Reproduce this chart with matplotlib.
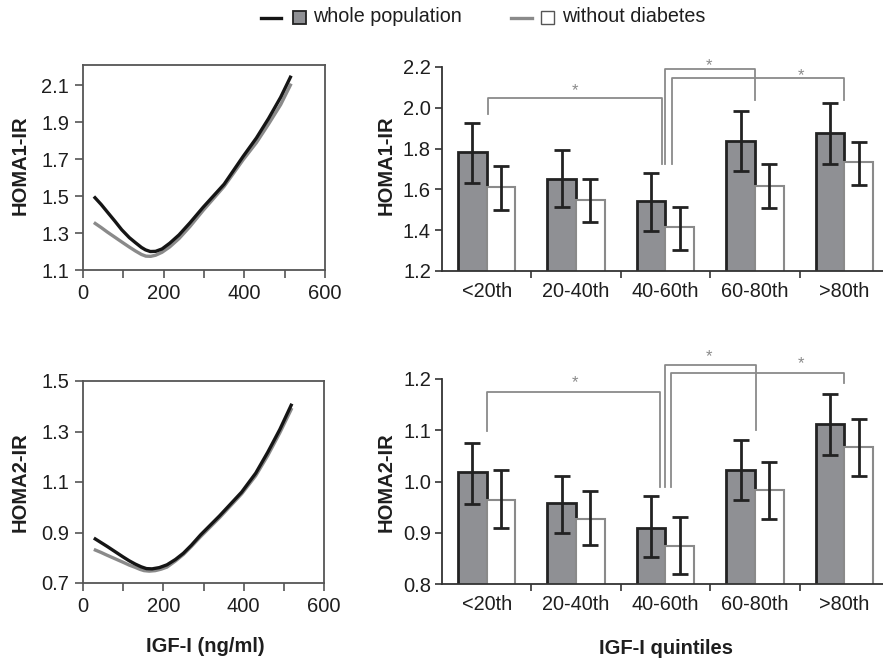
"""HOMA-IR vs IGF-I: fitted curves and quintile bar charts."""

import matplotlib

matplotlib.use("Agg")
import matplotlib.pyplot as plt
import numpy as np
from matplotlib.lines import Line2D
from matplotlib.patches import Rectangle

plt.rcParams["font.family"] = ["Liberation Sans", "DejaVu Sans"]

# fitted curves
igf_top_whole = [27, 45, 60, 80, 96, 115, 130, 145, 155, 167, 180, 196, 215, 238, 265, 298,
                 350, 397, 430, 460, 490, 516]
homa1_whole = [1.498, 1.455, 1.415, 1.362, 1.318, 1.275, 1.248, 1.222, 1.209, 1.200, 1.201,
               1.214, 1.245, 1.290, 1.355, 1.440, 1.565, 1.715, 1.815, 1.920, 2.035, 2.152]
igf_top_nodiab = [27, 45, 60, 80, 96, 115, 130, 145, 156, 168, 180, 196, 215, 238, 265, 298,
                  350, 397, 430, 460, 490, 516]
homa1_nodiab = [1.357, 1.330, 1.306, 1.276, 1.252, 1.224, 1.203, 1.184, 1.175, 1.174, 1.180,
                1.196, 1.225, 1.270, 1.335, 1.423, 1.553, 1.697, 1.790, 1.890, 1.995, 2.109]

igf_bot_whole = [27, 45, 60, 80, 100, 115, 130, 145, 158, 172, 190, 209, 230, 250, 270, 293,
                 340, 395, 430, 460, 490, 520]
homa2_whole = [0.878, 0.860, 0.845, 0.824, 0.803, 0.788, 0.775, 0.764, 0.757, 0.756, 0.761,
               0.772, 0.793, 0.818, 0.850, 0.891, 0.966, 1.060, 1.135, 1.218, 1.308, 1.410]
igf_bot_nodiab = [27, 45, 60, 80, 100, 115, 130, 142, 152, 165, 180, 195, 209, 230, 250, 270,
                  293, 340, 395, 430, 460, 490, 520]
homa2_nodiab = [0.833, 0.821, 0.810, 0.796, 0.782, 0.771, 0.762, 0.754, 0.749, 0.747, 0.749,
                0.755, 0.763, 0.787, 0.813, 0.845, 0.884, 0.959, 1.053, 1.125, 1.205, 1.295,
                1.393]

# quintile means with error bar limits
quintiles = ["<20th", "20-40th", "40-60th", "60-80th", ">80th"]
h1_whole = [1.784, 1.649, 1.541, 1.836, 1.877]
h1_whole_lo = [1.633, 1.515, 1.398, 1.690, 1.725]
h1_whole_hi = [1.926, 1.792, 1.680, 1.984, 2.025]
h1_nodiab = [1.610, 1.548, 1.415, 1.615, 1.733]
h1_nodiab_lo = [1.498, 1.441, 1.305, 1.508, 1.623]
h1_nodiab_hi = [1.715, 1.649, 1.515, 1.725, 1.834]

h2_whole = [1.018, 0.958, 0.910, 1.022, 1.112]
h2_whole_lo = [0.957, 0.900, 0.852, 0.963, 1.052]
h2_whole_hi = [1.076, 1.010, 0.971, 1.081, 1.170]
h2_nodiab = [0.963, 0.927, 0.874, 0.984, 1.068]
h2_nodiab_lo = [0.910, 0.876, 0.819, 0.927, 1.010]
h2_nodiab_hi = [1.022, 0.981, 0.930, 1.038, 1.122]

# significance brackets: (x_left, x_right, y_bar, y_left_end, y_right_end, x_star, y_star)
h1_brackets = [
    (0.01, 1.96, 2.048, 1.970, 1.725, 0.99, 2.082),
    (2.00, 3.00, 2.190, 1.725, 2.038, 2.49, 2.205),
    (2.07, 4.00, 2.146, 1.725, 2.038, 3.52, 2.160),
]
h2_brackets = [
    (0.00, 1.94, 1.175, 1.099, 0.989, 0.99, 1.193),
    (1.99, 3.01, 1.228, 0.989, 1.101, 2.49, 1.243),
    (2.06, 4.00, 1.212, 0.989, 1.193, 3.52, 1.230),
]

BLACK = "#151515"
GRAY_LINE = "#8a8a8a"
BAR_GRAY = "#8f9094"
SPINE = "#333333"
TXT = "#1e1e1e"

W, H = 883, 661
fig = plt.figure(figsize=(W / 100, H / 100), dpi=100)


def px_axes(left, top, right, bottom):
    return fig.add_axes([left / W, 1 - bottom / H, (right - left) / W, (bottom - top) / H])


def curve_panel(ax, xw, yw, xn, yn, ylim, yticks):
    ax.plot(xn, yn, color=GRAY_LINE, lw=2.4, solid_joinstyle="round", solid_capstyle="butt")
    ax.plot(xw, yw, color=BLACK, lw=2.4, solid_joinstyle="round", solid_capstyle="butt")
    ax.set_xlim(0, 600)
    ax.set_ylim(*ylim)
    ax.set_xticks([0, 100, 200, 300, 400, 500, 600])
    ax.set_xticklabels(["0", "", "200", "", "400", "", "600"])
    ax.set_yticks(yticks)
    ax.set_yticklabels([f"{t:.1f}" for t in yticks])
    for s in ax.spines.values():
        s.set_color("#555555")
        s.set_linewidth(1.3)
    ax.tick_params(direction="out", length=6, width=1.2, color="#555555",
                   labelsize=14.5, labelcolor=TXT, pad=4)


def bar_panel(ax, mw, lw_, hw, mn, ln, hn, ylim, yticks, brackets):
    x = np.arange(len(quintiles))
    bw = 0.32
    ax.bar(x - bw / 2, mw, bw, color=BAR_GRAY, edgecolor="#222222", linewidth=2.0, zorder=2)
    ax.bar(x + bw / 2, mn, bw, color="white", edgecolor="#8a8a8a", linewidth=1.5, zorder=2)
    mw_a, mn_a = np.array(mw), np.array(mn)
    ax.errorbar(x - bw / 2, mw, yerr=[mw_a - np.array(lw_), np.array(hw) - mw_a], fmt="none",
                ecolor="#222222", elinewidth=2.0, capsize=6, capthick=2.0, zorder=3)
    ax.errorbar(x + bw / 2, mn, yerr=[mn_a - np.array(ln), np.array(hn) - mn_a], fmt="none",
                ecolor="#222222", elinewidth=2.0, capsize=6, capthick=2.0, zorder=3)
    for xl, xr, yb, yle, yre, xs, ys in brackets:
        ax.plot([xl, xl, xr, xr], [yle, yb, yb, yre], color="#8a8a8a", lw=1.3,
                clip_on=False, zorder=1)
        ax.text(xs, ys, "*", color="#8a8a8a", fontsize=12, ha="center", va="center",
                clip_on=False)
    ax.set_xlim(-0.5, 4.5)
    ax.set_ylim(*ylim)
    ax.set_yticks(yticks)
    ax.set_yticklabels([f"{t:.1f}" for t in yticks])
    ax.set_xticks([0.5, 1.5, 2.5, 3.5])
    ax.set_xticklabels([])
    ax.set_xticks(x, minor=True)
    ax.set_xticklabels(quintiles, minor=True)
    ax.spines["top"].set_visible(False)
    ax.spines["right"].set_visible(False)
    for s in ("left", "bottom"):
        ax.spines[s].set_color(SPINE)
        ax.spines[s].set_linewidth(1.3)
    ax.tick_params(axis="both", which="major", direction="out", length=5, width=1.2,
                   color=SPINE, labelsize=14.5, labelcolor=TXT, pad=3)
    ax.tick_params(axis="x", which="minor", length=0, labelsize=14.3,
                   labelcolor=TXT, pad=8)


ax1 = px_axes(83, 65, 325, 270)
curve_panel(ax1, igf_top_whole, homa1_whole, igf_top_nodiab, homa1_nodiab,
            (1.1, 2.21), [1.1, 1.3, 1.5, 1.7, 1.9, 2.1])

ax3 = px_axes(83, 381, 324, 583)
curve_panel(ax3, igf_bot_whole, homa2_whole, igf_bot_nodiab, homa2_nodiab,
            (0.7, 1.5), [0.7, 0.9, 1.1, 1.3, 1.5])

ax2 = px_axes(442, 67, 889, 271)
bar_panel(ax2, h1_whole, h1_whole_lo, h1_whole_hi, h1_nodiab, h1_nodiab_lo, h1_nodiab_hi,
          (1.2, 2.2), [1.2, 1.4, 1.6, 1.8, 2.0, 2.2], h1_brackets)

ax4 = px_axes(442, 379, 889, 584)
bar_panel(ax4, h2_whole, h2_whole_lo, h2_whole_hi, h2_nodiab, h2_nodiab_lo, h2_nodiab_hi,
          (0.8, 1.2), [0.8, 0.9, 1.0, 1.1, 1.2], h2_brackets)

# axis titles
lab = dict(fontsize=14.5, fontweight="bold", color=TXT, ha="center", va="center")
fig.text(20 / W, 1 - 165 / H, "HOMA1-IR", rotation=90, **lab)
fig.text(20 / W, 1 - 482 / H, "HOMA2-IR", rotation=90, **lab)
fig.text(386 / W, 1 - 165 / H, "HOMA1-IR", rotation=90, **lab)
fig.text(386 / W, 1 - 482 / H, "HOMA2-IR", rotation=90, **lab)
fig.text(205 / W, 1 - 646 / H, "IGF-I (ng/ml)", **lab)
fig.text(666 / W, 1 - 648 / H, "IGF-I quintiles", **lab)

# legend drawn at the top
fig.add_artist(Line2D([261 / W, 281 / W], [1 - 18 / H] * 2, color=BLACK, lw=2.4))
fig.add_artist(Rectangle((293 / W, 1 - 24 / H), 13 / W, 13 / H, facecolor=BAR_GRAY,
                         edgecolor="#222222", lw=1.3))
fig.text(313 / W, 1 - 17 / H, "whole population", fontsize=14.2, color=TXT,
         ha="left", va="center")
fig.add_artist(Line2D([511 / W, 532 / W], [1 - 18 / H] * 2, color=GRAY_LINE, lw=2.4))
fig.add_artist(Rectangle((541 / W, 1 - 24 / H), 13 / W, 13 / H, facecolor="white",
                         edgecolor="#555555", lw=1.0))
fig.text(562 / W, 1 - 17 / H, "without diabetes", fontsize=14.2, color=TXT,
         ha="left", va="center")

fig.savefig("out.png", dpi=100)
